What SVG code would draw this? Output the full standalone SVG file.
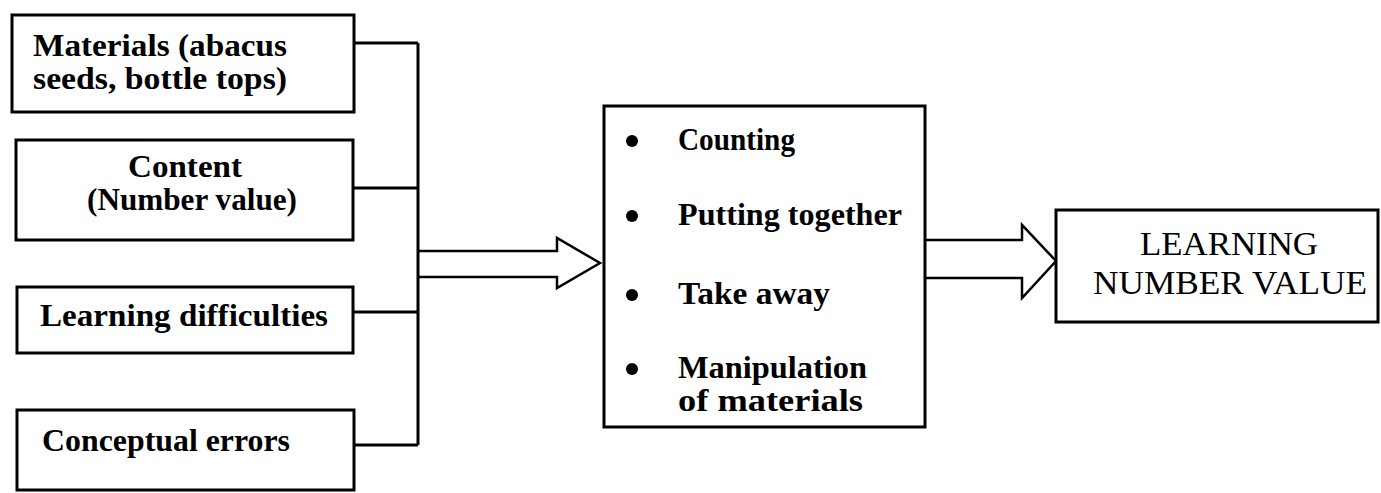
<svg xmlns="http://www.w3.org/2000/svg" width="1381" height="493" viewBox="0 0 1381 493">
<style>
.box{fill:#fff;stroke:#000;stroke-width:3}
.ln{fill:none;stroke:#000;stroke-width:3}
.arr{fill:none;stroke:#000;stroke-width:2.5;stroke-linejoin:miter}
.t{font-family:"Liberation Serif","Times New Roman",serif;font-size:32px;font-weight:bold;fill:#000}
.r{font-family:"Liberation Serif","Times New Roman",serif;font-size:33px;fill:#000}
</style>
<rect width="1381" height="493" fill="#fff"/>
<g id="connectors">
<path class="ln" d="M354,43 H418 M353,188 H418 M353,312 H418 M354,445 H418 M418,43 V445"/>
<path class="arr" d="M418,251 H557 V238 L600,263 L557,288 V277 H418"/>
<path class="arr" d="M925,240 H1022 V225 L1056,261 L1022,298 V278 H925"/>
</g>
<g id="materials">
<rect class="box" x="12" y="15" width="342" height="97"/>
<text class="t" x="33" y="56" textLength="254" lengthAdjust="spacingAndGlyphs">Materials (abacus</text>
<text class="t" x="33" y="89" textLength="254" lengthAdjust="spacingAndGlyphs">seeds, bottle tops)</text>
</g>
<g id="content">
<rect class="box" x="16" y="140" width="337" height="100"/>
<text class="t" x="128" y="177" textLength="114" lengthAdjust="spacingAndGlyphs">Content</text>
<text class="t" x="87" y="210" textLength="210" lengthAdjust="spacingAndGlyphs">(Number value)</text>
</g>
<g id="difficulties">
<rect class="box" x="17" y="287" width="336" height="66"/>
<text class="t" x="40" y="326" textLength="288" lengthAdjust="spacingAndGlyphs">Learning difficulties</text>
</g>
<g id="errors">
<rect class="box" x="17" y="410" width="337" height="80"/>
<text class="t" x="42" y="451" textLength="248" lengthAdjust="spacingAndGlyphs">Conceptual errors</text>
</g>
<g id="activities">
<rect class="box" x="604" y="106" width="321" height="321"/>
<circle cx="632" cy="141" r="6"/>
<circle cx="632" cy="216" r="6"/>
<circle cx="632" cy="295" r="6"/>
<circle cx="632" cy="369" r="6"/>
<text class="t" x="678" y="150" textLength="117" lengthAdjust="spacingAndGlyphs">Counting</text>
<text class="t" x="678" y="225" textLength="224" lengthAdjust="spacingAndGlyphs">Putting together</text>
<text class="t" x="678" y="304" textLength="152" lengthAdjust="spacingAndGlyphs">Take away</text>
<text class="t" x="678" y="378" textLength="189" lengthAdjust="spacingAndGlyphs">Manipulation</text>
<text class="t" x="678" y="411" textLength="185" lengthAdjust="spacingAndGlyphs">of materials</text>
</g>
<g id="outcome">
<rect class="box" x="1056" y="210" width="322" height="112"/>
<text class="r" x="1140" y="255" textLength="178" lengthAdjust="spacingAndGlyphs">LEARNING</text>
<text class="r" x="1093" y="294" textLength="274" lengthAdjust="spacingAndGlyphs">NUMBER VALUE</text>
</g>
</svg>
